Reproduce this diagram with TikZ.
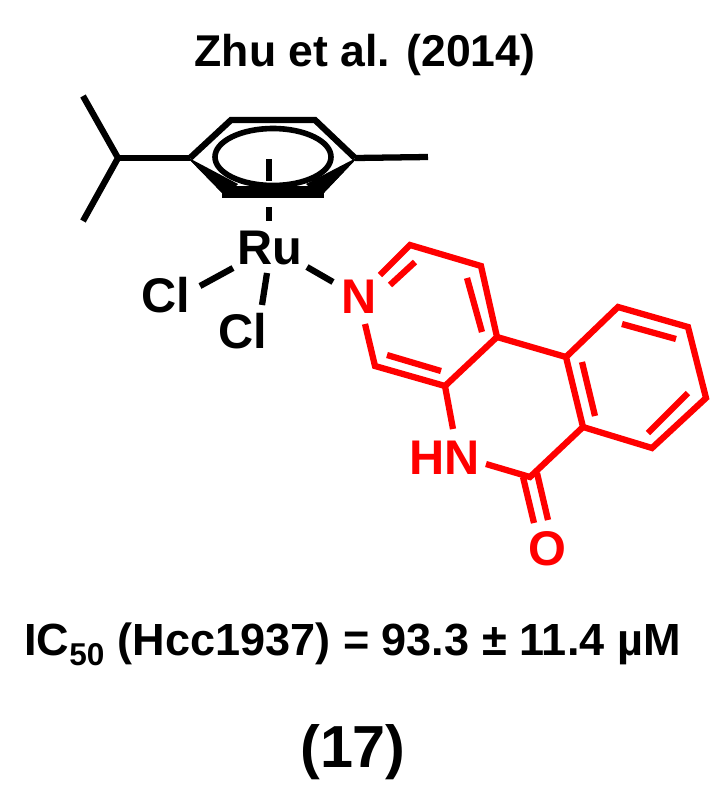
\documentclass[tikz,border=0pt]{standalone}
\usepackage{fontspec}
\setmainfont{Liberation Sans}[BoldFont={Liberation Sans Bold}]
\definecolor{chemred}{RGB}{255,0,0}
\tikzset{
  bond/.style={line width=4.7pt,line cap=butt,line join=miter},
  blackbond/.style={bond,draw=black},
  redbond/.style={bond,draw=chemred},
  atomk/.style={anchor=base,inner sep=0pt,font=\fontsize{36.5}{36.5}\selectfont\bfseries,text=black},
  atomr/.style={atomk,text=chemred},
  caption/.style={anchor=base,inner sep=0pt,text=black}
}
\begin{document}
\begin{tikzpicture}[x=0.75pt,y=-0.75pt]
\useasboundingbox (0,0) rectangle (725,797);
% captions
\node[caption,font=\fontsize{33.4}{33.4}\selectfont\bfseries] (title) at (365,66) {Zhu et al. (2014)};
\node[caption,font=\fontsize{33.8}{33.8}\selectfont\bfseries] (ic) at (352.5,655) {IC\textsubscript{50} (Hcc1937) = 93.3 ± 11.4 µM};
\node[caption,font=\fontsize{44.5}{44.5}\selectfont\bfseries] (num) at (353,767) {(17)};
% atom labels
\node[atomk] (ru) at (270,264) {Ru};
\node[atomk] (cla) at (166,312) {Cl};
\node[atomk] (clb) at (243,348) {Cl};
\node[atomr] (n) at (359,313) {N};
\node[atomr] (hn) at (444.5,474) {HN};
\node[atomr] (o) at (547,565) {O};
% arene
\coordinate (a1) at (190,158);
\coordinate (a2) at (231,120);
\coordinate (a3) at (315,120);
\coordinate (a4) at (355,158);
\coordinate (a5) at (320,197);
\coordinate (a6) at (226,197);
\coordinate (ip) at (118,158);
\coordinate (me1) at (83,96);
\coordinate (me2) at (83,221);
\coordinate (me3) at (428,157);
\coordinate (cen) at (273,157);
\draw[blackbond,line join=miter] (a1) -- (a2) -- (a3) -- (a4);
\fill[black] (187,157) -- (222,186) -- (324,186) -- (358,157) -- (a5) -- (a6) -- cycle;
\fill[white] (200,161) -- (233,189) -- (312,189) -- (344,161) -- cycle;
\fill[black] (187,157) -- (238,184) -- (a6) -- cycle;
\fill[black] (358,157) -- (306,184) -- (a5) -- cycle;
\fill[black] (222,186) rectangle (324,198);
\draw[blackbond] (me1) -- (ip) -- (me2);
\draw[blackbond] (ip) -- (a1);
\draw[blackbond] (a4) -- (me3);
\draw[black,line width=4.2pt,fill=white] (cen) ellipse [x radius=58,y radius=28.5];
% dashed link ring to Ru
\coordinate (d1) at (269,159);
\coordinate (d2) at (269,181);
\coordinate (d3) at (269,207);
\coordinate (d4) at (269,221);
\draw[blackbond] (d1) -- (d2);
\draw[blackbond] (d3) -- (d4);
% Ru bonds
\coordinate (rc1) at (233,268);
\coordinate (rc2) at (200,286);
\coordinate (rd1) at (267,273);
\coordinate (rd2) at (262,305);
\coordinate (rn1) at (307,267);
\coordinate (rn2) at (333,282);
\draw[blackbond] (rc1) -- (rc2);
\draw[blackbond] (rd1) -- (rd2);
\draw[blackbond] (rn1) -- (rn2);
% red skeleton
\coordinate (b1) at (380,275);
\coordinate (c1) at (410,245);
\coordinate (c2) at (481,266);
\coordinate (c3) at (497,337);
\coordinate (c4) at (445,386);
\coordinate (c5) at (375,366);
\coordinate (b2) at (365,324);
\coordinate (c6) at (566,357);
\coordinate (c7) at (583,427);
\coordinate (c8) at (530,477);
\coordinate (c9) at (618,307);
\coordinate (c10) at (688,327);
\coordinate (c11) at (706,398);
\coordinate (c12) at (652,448);
\coordinate (b3) at (453,429);
\coordinate (b4) at (486,464);
\draw[redbond] (b1) -- (c1) -- (c2) -- (c3) -- (c4) -- (c5) -- (b2);
\draw[redbond] (c3) -- (c6) -- (c7) -- (c8) -- (b4);
\draw[redbond] (c6) -- (c9) -- (c10) -- (c11) -- (c12) -- (c7);
\draw[redbond] (c4) -- (b3);
% inner double bond lines
\coordinate (i1a) at (390,285); \coordinate (i1b) at (415,262);
\coordinate (i2a) at (467,278); \coordinate (i2b) at (482,332);
\coordinate (i3a) at (387,355); \coordinate (i3b) at (441,371);
\coordinate (i4a) at (582,362); \coordinate (i4b) at (595,416);
\coordinate (i5a) at (622,324); \coordinate (i5b) at (676,339);
\coordinate (i6a) at (688,393); \coordinate (i6b) at (648,433);
\draw[redbond] (i1a) -- (i1b);
\draw[redbond] (i2a) -- (i2b);
\draw[redbond] (i3a) -- (i3b);
\draw[redbond] (i4a) -- (i4b);
\draw[redbond] (i5a) -- (i5b);
\draw[redbond] (i6a) -- (i6b);
% carbonyl
\coordinate (o1a) at (523,477); \coordinate (o1b) at (534,523);
\coordinate (o2a) at (537,473); \coordinate (o2b) at (548,520);
\draw[redbond] (o1a) -- (o1b);
\draw[redbond] (o2a) -- (o2b);
\end{tikzpicture}
\end{document}
